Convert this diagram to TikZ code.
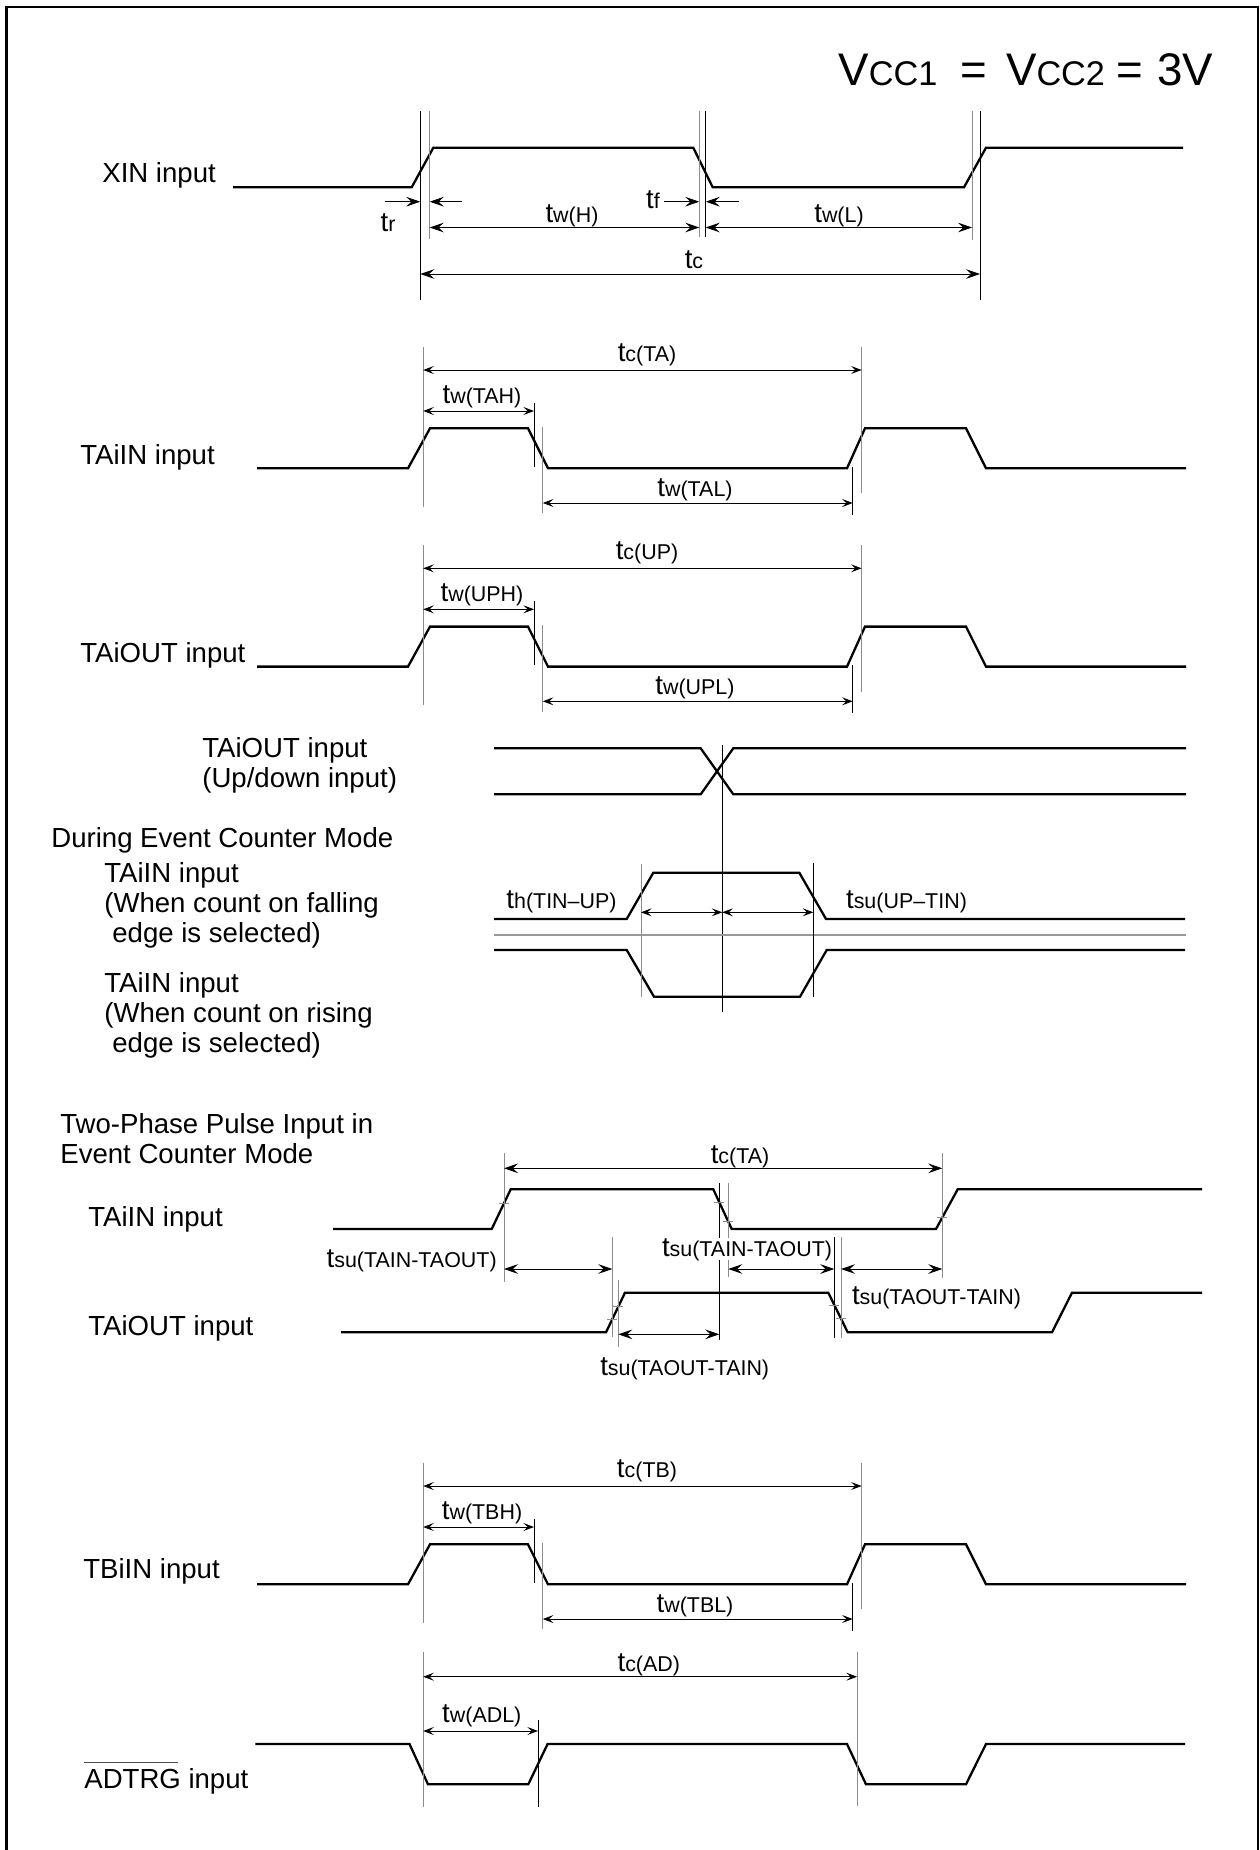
\documentclass[tikz,border=0pt]{standalone}
\usepackage{fontspec}
\setmainfont{Liberation Sans}
\usetikzlibrary{arrows.meta}
\newcommand\lblfont{\fontsize{15.7}{18}\selectfont}
\newcommand\subfont{\fontsize{12.2}{14}\selectfont}
\newcommand\tsub[1]{t{\subfont #1}}
\begin{document}
\begin{tikzpicture}[x=0.02cm,y=-0.02cm,
  sig/.style={line width=1.3pt, line join=miter, line cap=butt},
  gl/.style={line width=0.55pt, black!45},
  bl/.style={line width=0.5pt, black},
  dimA/.style={line width=0.5pt, >={Stealth[length=8pt,width=5.5pt,inset=3pt]}, <->},
  dimB/.style={line width=0.5pt, >={Stealth[length=6pt,width=4.5pt,inset=2.4pt]}, <->},
  oneA/.style={line width=0.5pt, >={Stealth[length=8pt,width=5.5pt,inset=3pt]}, ->},
  lab/.style={font=\lblfont, inner sep=0pt, anchor=base west},
  tl/.style={font=\lblfont, inner sep=0pt, anchor=base},
  tk/.style={line width=0.5pt, black!45}
]
\useasboundingbox (0,0) rectangle (1259,1850);
% frame (bottom edge lies outside the picture)
\draw[line width=1.3pt] (6.5,1900) -- (6.5,7) -- (1257.7,7) -- (1257.7,1900);

% title
\node[anchor=base west, inner sep=0pt] (vcc) at (838,85) {\fontsize{26}{30}\selectfont V{\fontsize{19.5}{22}\selectfont CC1}\hspace{12.9pt}=\hspace{11pt}V{\fontsize{19.5}{22}\selectfont CC2}\hspace{6.6pt}=\hspace{7.8pt}3V};

% ---------------- XIN ----------------
\node[lab] (xin) at (102,182) {XIN input};
\draw[sig] (233,187.3) -- (411.7,187.3) -- (433.3,147.7) -- (693.3,147.7) -- (712.7,187.3) -- (964,187.3) -- (986,147.7) -- (1183,147.7);
\draw[bl] (420.3,111) -- (420.3,300);
\draw[gl] (429.7,111) -- (429.7,239);
\draw[gl] (699.3,111) -- (699.3,237);
\draw[bl] (705.7,111) -- (705.7,237);
\draw[gl] (972,111) -- (972,240);
\draw[bl] (980,111) -- (980,300);
\draw[oneA] (385,201.7) -- (420.3,201.7);
\draw[oneA] (461.7,201.7) -- (429.7,201.7);
\draw[oneA] (664,201.7) -- (699.3,201.7);
\draw[oneA] (739,201.7) -- (705.7,201.7);
\draw[dimA] (429.7,227.5) -- (699.3,227.5);
\draw[dimA] (705.7,227.5) -- (972,227.5);
\draw[dimA] (420.3,274) -- (980,274);
\node[tl] (tr) at (388,231) {\tsub{r}};
\node[tl] (twh) at (572,222) {\tsub{w(H)}};
\node[tl] (tf) at (653,208) {\tsub{f}};
\node[tl] (twl) at (839,222) {\tsub{w(L)}};
\node[tl] (tc) at (694,268) {\tsub{c}};

% ---------------- TAiIN / TAiOUT / TBiIN ----------------
\node[lab] (taiin) at (80,464) {TAiIN input};
\node[lab] (taiout) at (80,662.4) {TAiOUT input};
\node[lab] (tbiin) at (83,1578) {TBiIN input};
\foreach \sh/\nm/\ca/\wh/\wl in {0/pa/{c(TA)}/{w(TAH)}/{w(TAL)}, 198.3/pb/{c(UP)}/{w(UPH)}/{w(UPL)}, 1116/pc/{c(TB)}/{w(TBH)}/{w(TBL)}}{
 \begin{scope}[shift={(0,\sh)}]
  \draw[sig] (257,468.3) -- (408,468.3) -- (430,428.3) -- (528,428.3) -- (548,468.3) -- (847,468.3) -- (865,428.3) -- (966,428.3) -- (986,468.3) -- (1186,468.3);
  \draw[gl] (423.2,346.7) -- (423.2,506.7);
  \draw[bl] (534,403) -- (534,466.7);
  \draw[gl] (542.8,426.7) -- (542.8,513.3);
  \draw[bl] (852.7,466.7) -- (852.7,515);
  \draw[gl] (861.6,346.7) -- (861.6,493.3);
  \draw[dimB] (423.2,370) -- (861.6,370);
  \draw[dimB] (423.2,411) -- (534,411);
  \draw[dimB] (542.8,503) -- (852.7,503);
  \node[tl] (\nm-c) at (647,361) {\tsub{\ca}};
  \node[tl] (\nm-h) at (482,403) {\tsub{\wh}};
  \node[tl] (\nm-l) at (695,496) {\tsub{\wl}};
 \end{scope}
}

% ---------------- Up/down & event counter ----------------
\node[lab] (ud1) at (202,757) {TAiOUT input};
\node[lab] (ud2) at (202,787) {(Up/down input)};
\node[lab] (ev0) at (51,847.5) {During Event Counter Mode};
\node[lab] (ev1) at (104,882) {TAiIN input};
\node[lab] (ev2) at (104,912) {(When count on falling};
\node[lab] (ev3) at (112,942) {edge is selected)};
\node[lab] (ev4) at (104,992) {TAiIN input};
\node[lab] (ev5) at (104,1022) {(When count on rising};
\node[lab] (ev6) at (112,1052) {edge is selected)};

\draw[sig] (494,748.3) -- (700.7,748.3) -- (733.3,794.3) -- (1186,794.3);
\draw[sig] (494,794.3) -- (700.7,794.3) -- (733.3,748.3) -- (1186,748.3);
\draw[bl] (722.3,745) -- (722.3,1011.7);
\draw[sig] (494,919) -- (626.7,919) -- (653.3,872.7) -- (799.3,872.7) -- (826,919) -- (1185,919);
\draw[line width=0.8pt, black!40] (494,935) -- (1186,935);
\draw[sig] (494,950) -- (626.7,950) -- (654,996.7) -- (800,996.7) -- (826.7,950) -- (1185,950);
\draw[gl] (641,864) -- (641,996.7);
\draw[bl] (813.3,862.7) -- (813.3,996.7);
\draw[dimB] (641,912.3) -- (722.3,912.3);
\draw[dimB] (722.3,912.3) -- (813.3,912.3);
\node[tl] (th) at (561.5,908) {\tsub{h(TIN–UP)}};
\node[tl] (tsu) at (906.5,908) {\tsub{su(UP–TIN)}};

% ---------------- Two-phase ----------------
\node[lab] (tp1) at (60,1133) {Two-Phase Pulse Input in};
\node[lab] (tp2) at (60,1163) {Event Counter Mode};
\node[lab] (tpin) at (88,1226) {TAiIN input};
\node[lab] (tpout) at (88,1335) {TAiOUT input};

\draw[sig] (333,1229) -- (491.7,1229) -- (510.7,1189.3) -- (713.3,1189.3) -- (731.7,1229) -- (936,1229) -- (957.7,1189.3) -- (1202,1189.3);
\draw[sig] (341,1332.3) -- (606,1332.3) -- (625,1292.7) -- (828.3,1292.7) -- (847.7,1332.3) -- (1052,1332.3) -- (1072,1292.7) -- (1202,1292.7);

\draw[gl] (504,1153) -- (504,1281.7);
\draw[bl] (719.3,1183) -- (719.3,1340);
\draw[gl] (728.3,1183) -- (728.3,1277);
\draw[gl] (942.3,1153) -- (942.3,1278);
\draw[gl] (612.3,1237.3) -- (612.3,1336.7);
\draw[gl] (618.3,1280) -- (618.3,1346.7);
\draw[bl] (834.3,1237) -- (834.3,1338);
\draw[gl] (841,1237) -- (841,1338);

\foreach \px/\py in {504/1203.3, 719.3/1202.2, 728.3/1221.7, 942.3/1217.5, 612.3/1319.2, 618.3/1306.7, 834.3/1305, 841/1318.6}{
  \draw[tk] (\px-5,\py) -- (\px+5,\py);
}

\draw[dimA] (504,1168.3) -- (942.3,1168.3);
\draw[dimA] (504,1269) -- (612.3,1269);
\draw[dimA] (728.3,1269) -- (834.3,1269);
\draw[dimA] (841,1269) -- (942.3,1269);
\draw[dimA] (618.3,1334.3) -- (719.3,1334.3);

\node[tl] (tctp) at (740,1163) {\tsub{c(TA)}};
\node[font=\lblfont, inner sep=0pt, anchor=base east] (s1) at (497,1267) {\tsub{su(TAIN-TAOUT)}};
\node[tl, fill=white] (s2) at (747,1256) {\tsub{su(TAIN-TAOUT)}};
\node[lab] (s3) at (851.7,1304) {\tsub{su(TAOUT-TAIN)}};
\node[tl] (s4) at (684.7,1375) {\tsub{su(TAOUT-TAIN)}};

% ---------------- ADTRG ----------------
\node[lab] (adtrg) at (84,1788) {ADTRG input};
\draw[line width=0.6pt, black!70] (84,1762.7) -- (178,1762.7);
\draw[sig] (255.3,1744) -- (409.5,1744) -- (428,1784.3) -- (528.3,1784.3) -- (547.6,1744) -- (847,1744) -- (866,1784.3) -- (966,1784.3) -- (986,1744) -- (1185,1744);
\draw[gl] (423.2,1652) -- (423.2,1807);
\draw[bl] (538,1720) -- (538,1807);
\draw[gl] (857,1652) -- (857,1806);
\draw[dimB] (423.2,1676.7) -- (857,1676.7);
\draw[dimB] (423.2,1731) -- (538,1731);
\node[tl] (tcad) at (648.8,1671) {\tsub{c(AD)}};
\node[tl] (twad) at (481.8,1722) {\tsub{w(ADL)}};
\end{tikzpicture}
\end{document}
